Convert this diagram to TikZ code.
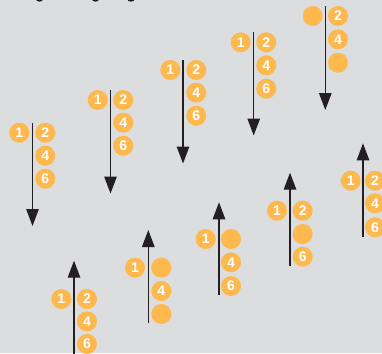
\documentclass[tikz,border=0pt]{standalone}
\usepackage{fontspec}
\setmainfont{Liberation Sans}
\usetikzlibrary{arrows.meta}
\definecolor{bgc}{HTML}{DCDDDF}
\definecolor{orng}{HTML}{FDB94E}
\definecolor{ink}{HTML}{231F20}
\tikzset{
  dot/.style={circle,fill=orng,minimum size=20pt,inner sep=0pt,text=white,font=\bfseries\fontsize{14}{14}\selectfont},
  arr/.style={draw=ink,line width=1.3pt,-{Triangle[width=12.5pt,length=17pt]}},
  blob/.style={fill=ink,draw=none}
}
\begin{document}
\begin{tikzpicture}[x=1pt,y=-1pt]
\clip (0,0) rectangle (382,353);
\fill[bgc] (0,0) rectangle (382,353);
% cut-off marks at top edge
\fill[blob] (39.5,-1.5) ellipse [x radius=3.8pt,y radius=3.2pt];
\fill[blob] (95.5,-1.5) ellipse [x radius=3.8pt,y radius=3.2pt];
\fill[blob] (131,-1.5) ellipse [x radius=4pt,y radius=3.2pt];
% group 1
\coordinate (g1s) at (32.5,123);
\coordinate (g1e) at (32.5,226);
\draw[arr] (g1s) -- (g1e);
\node[dot] (g1a) at (19.3,132.7) {1};
\node[dot] (g1b) at (45.3,132.7) {2};
\node[dot] (g1c) at (45.3,155.7) {4};
\node[dot] (g1d) at (45.3,178.7) {6};
% group 2
\coordinate (g2s) at (110.5,90);
\coordinate (g2e) at (110.5,193.5);
\draw[arr] (g2s) -- (g2e);
\node[dot] (g2a) at (97.7,100) {1};
\node[dot] (g2b) at (123.3,100) {2};
\node[dot] (g2c) at (123.3,122.7) {4};
\node[dot] (g2d) at (123.3,145.7) {6};
% group 3
\coordinate (g3s) at (183,60);
\coordinate (g3e) at (183,163.5);
\draw[arr] (g3s) -- (g3e);
\node[dot] (g3a) at (170.3,70) {1};
\node[dot] (g3b) at (196.3,70) {2};
\node[dot] (g3c) at (196.3,92.7) {4};
\node[dot] (g3d) at (196.3,115.7) {6};
% group 4
\coordinate (g4s) at (253.7,32);
\coordinate (g4e) at (253.7,135.5);
\draw[arr] (g4s) -- (g4e);
\node[dot] (g4a) at (240.7,42.3) {1};
\node[dot] (g4b) at (266.3,42.3) {2};
\node[dot] (g4c) at (266.3,65.3) {4};
\node[dot] (g4d) at (266.3,88.7) {6};
% group 5
\coordinate (g5s) at (325.3,6);
\coordinate (g5e) at (325.3,110);
\draw[arr] (g5s) -- (g5e);
\node[dot] (g5a) at (312.7,16) {};
\node[dot] (g5b) at (338,16) {2};
\node[dot] (g5c) at (338,39.3) {4};
\node[dot] (g5d) at (338,62.7) {};
% group 6
\coordinate (g6s) at (74,356);
\coordinate (g6e) at (74,260.7);
\draw[arr] (g6s) -- (g6e);
\node[dot] (g6a) at (61.3,299) {1};
\node[dot] (g6b) at (87,299) {2};
\node[dot] (g6c) at (87,321.3) {4};
\node[dot] (g6d) at (87,344) {6};
% group 7
\coordinate (g7s) at (148.3,322.7);
\coordinate (g7e) at (148.3,230);
\draw[arr] (g7s) -- (g7e);
\node[dot] (g7a) at (135,267.7) {1};
\node[dot] (g7b) at (161.3,267.7) {};
\node[dot] (g7c) at (161.3,291) {4};
\node[dot] (g7d) at (161.3,314) {};
% group 8
\coordinate (g8s) at (219,295);
\coordinate (g8e) at (219,202.3);
\draw[arr] (g8s) -- (g8e);
\node[dot] (g8a) at (205.7,239) {1};
\node[dot] (g8b) at (231,239) {};
\node[dot] (g8c) at (231,262.3) {4};
\node[dot] (g8d) at (231,286) {6};
% group 9
\coordinate (g9s) at (290,266);
\coordinate (g9e) at (290,172.7);
\draw[arr] (g9s) -- (g9e);
\node[dot] (g9a) at (277,210.7) {1};
\node[dot] (g9b) at (302.7,210.7) {2};
\node[dot] (g9c) at (302.7,234) {};
\node[dot] (g9d) at (302.7,256.7) {6};
% group 10
\coordinate (g10s) at (363,236.7);
\coordinate (g10e) at (363,143.3);
\draw[arr] (g10s) -- (g10e);
\node[dot] (g10a) at (350.7,180.7) {1};
\node[dot] (g10b) at (375,180.7) {2};
\node[dot] (g10c) at (375,203.3) {4};
\node[dot] (g10d) at (375,227.3) {6};
\end{tikzpicture}
\end{document}
